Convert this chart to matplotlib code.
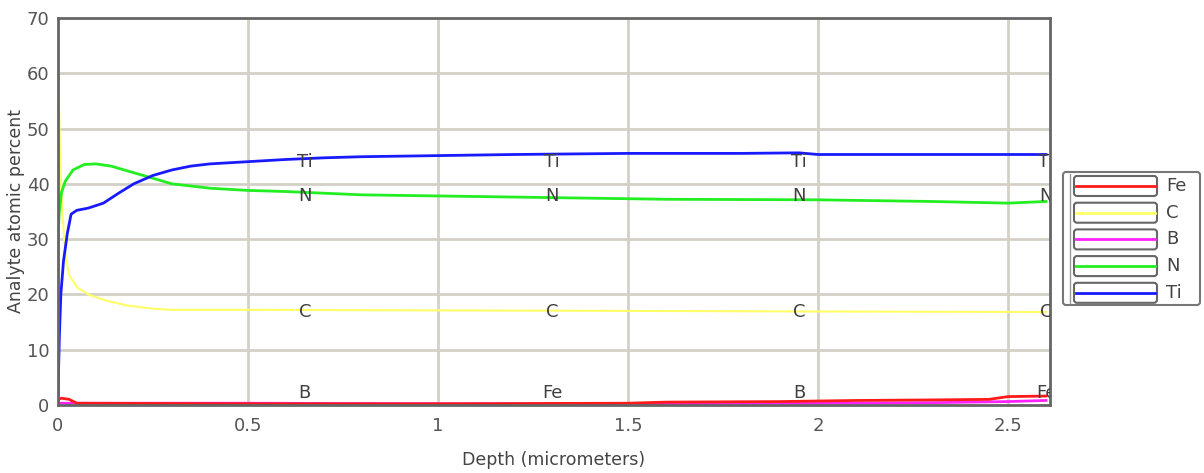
import numpy as np
import matplotlib.pyplot as plt
from matplotlib.patches import FancyBboxPatch

# depth profile values (depth in micrometers, atomic %)
ti_depth = [0, 0.004, 0.008, 0.015, 0.025, 0.035, 0.05, 0.08, 0.12, 0.16, 0.2, 0.25, 0.3, 0.35,
            0.4, 0.5, 0.6, 0.7, 0.8, 1.0, 1.2, 1.5, 1.8, 1.95, 2.0, 2.3, 2.6]
ti_pct = [0, 12, 20, 26, 31, 34.5, 35.2, 35.6, 36.5, 38.3, 40.0, 41.5, 42.5, 43.2,
          43.6, 44.0, 44.4, 44.7, 44.9, 45.1, 45.3, 45.5, 45.5, 45.6, 45.3, 45.3, 45.3]

n_depth = [0, 0.004, 0.01, 0.02, 0.04, 0.07, 0.1, 0.14, 0.2, 0.25, 0.3, 0.4, 0.5, 0.6,
           0.8, 1.0, 1.3, 1.6, 2.0, 2.3, 2.5, 2.6]
n_pct = [30, 35, 38.5, 40.5, 42.5, 43.5, 43.6, 43.2, 42.0, 41.0, 40.0, 39.2, 38.8, 38.6,
         38.0, 37.8, 37.5, 37.2, 37.1, 36.8, 36.5, 36.8]

c_depth = [0, 0.003, 0.006, 0.01, 0.015, 0.02, 0.03, 0.05, 0.08, 0.12, 0.18, 0.25, 0.3,
           0.5, 1.0, 1.5, 2.0, 2.6]
c_pct = [65, 55, 45, 38, 32, 27, 23.5, 21.3, 20.0, 19.0, 18.0, 17.4, 17.2,
         17.2, 17.1, 17.0, 16.9, 16.8]

fe_depth = [0, 0.01, 0.03, 0.05, 0.5, 1.0, 1.5, 1.6, 1.9, 2.1, 2.3, 2.45, 2.5, 2.6]
fe_pct = [1.0, 1.2, 1.0, 0.3, 0.2, 0.2, 0.3, 0.5, 0.6, 0.8, 0.9, 1.0, 1.5, 1.6]

b_depth = [0, 0.5, 1.0, 1.5, 2.0, 2.3, 2.5, 2.6]
b_pct = [0.3, 0.3, 0.2, 0.2, 0.3, 0.4, 0.6, 0.8]

elements = ['Fe', 'C', 'B', 'N', 'Ti']
colors = ['#ff1a1a', '#ffff66', '#ff22ff', '#22ee22', '#1a1aff']

label_x = [0.65, 1.3, 1.95, 2.6]
label_rows = [(44.0, ['Ti', 'Ti', 'Ti', 'Ti']),
              (37.8, ['N', 'N', 'N', 'N']),
              (16.8, ['C', 'C', 'C', 'C']),
              (2.2, ['B', 'Fe', 'B', 'Fe'])]

fig = plt.figure(figsize=(12.04, 4.73), dpi=100)
ax = fig.add_axes([0.048, 0.144, 0.824, 0.818])

grid_col = '#d4d0c8'
ax.set_xlim(0, 2.61)
ax.set_ylim(0, 70)
ax.set_xticks([0, 0.5, 1, 1.5, 2, 2.5])
ax.set_xticklabels(['0', '0.5', '1', '1.5', '2', '2.5'])
ax.set_yticks(range(0, 71, 10))
ax.grid(True, color=grid_col, lw=2)
ax.set_axisbelow(True)
ax.tick_params(length=0, labelsize=13, labelcolor='#555555')
ax.tick_params(axis='x', pad=9)
ax.tick_params(axis='y', pad=6)
for s in ax.spines.values():
    s.set_color('#666666')
    s.set_linewidth(2)

ax.plot(b_depth, b_pct, color=colors[2], lw=2)
ax.plot(fe_depth, fe_pct, color=colors[0], lw=2)
ax.plot(c_depth, c_pct, color=colors[1], lw=1.5)
ax.plot(n_depth, n_pct, color=colors[3], lw=2)
ax.plot(ti_depth, ti_pct, color=colors[4], lw=2)

for y, labs in label_rows:
    for x, t in zip(label_x, labs):
        ax.text(x, y, t, ha='center', va='center', fontsize=13, color='#404040', clip_on=True)

ax.set_xlabel('Depth (micrometers)', fontsize=12.5, color='#444444', labelpad=11)
ax.set_ylabel('Analyte atomic percent', fontsize=12.5, color='#444444', labelpad=-4)
ax.yaxis.set_label_coords(-0.033, 0.5)

# legend drawn in pixel coords, like the original box legend
lg = fig.add_axes([0, 0, 1, 1], facecolor='none')
lg.set_xlim(0, 1204)
lg.set_ylim(473, 0)
lg.axis('off')
lg.add_patch(FancyBboxPatch((1063, 172), 137, 133, boxstyle='round,pad=0,rounding_size=3',
                            fc='white', ec='#777777', lw=1.5))
lg.plot([1070, 1070], [174, 303], color='#999999', lw=1)
for i, (el, c) in enumerate(zip(elements, colors)):
    yc = 186 + i * 26.7
    lg.add_patch(FancyBboxPatch((1074, yc - 10), 83, 20, boxstyle='round,pad=0,rounding_size=3',
                                fc='white', ec='#666666', lw=1.5))
    lg.plot([1076, 1155], [yc, yc], color=c, lw=2)
    lg.text(1166, yc, el, ha='left', va='center', fontsize=13, color='#444444')

fig.savefig('out.png', dpi=100)
